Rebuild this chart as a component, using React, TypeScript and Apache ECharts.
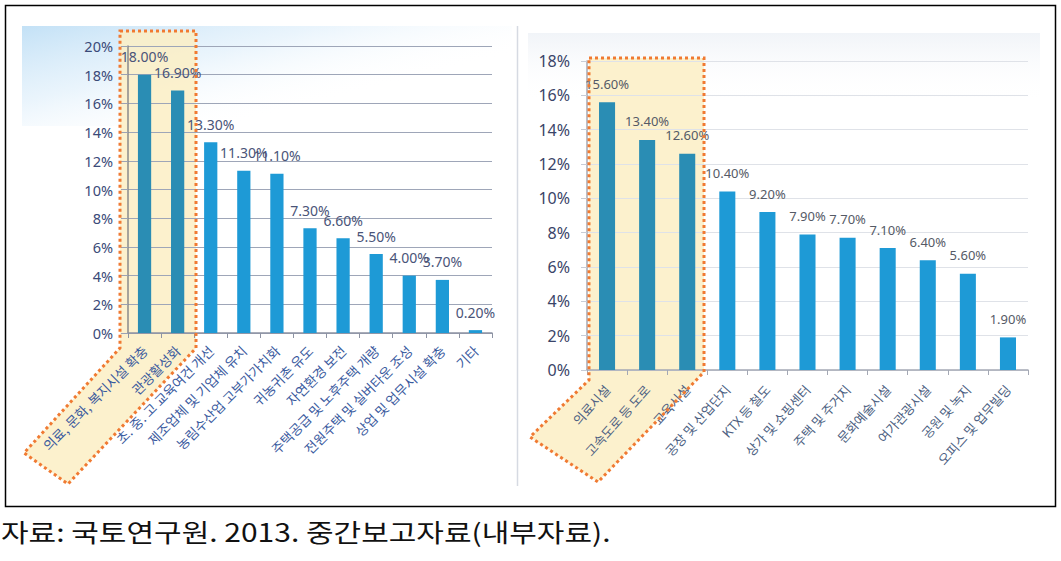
import React, { useEffect, useRef } from "react";
import * as echarts from "echarts";

const leftCategories = [
  "의료, 문화, 복지시설 확충",
  "관광활성화",
  "초. 중. 고 교육여건 개선",
  "제조업체 및 기업체 유치",
  "농림수산업 고부가가치화",
  "귀농귀촌 유도",
  "자연환경 보전",
  "주택공급 및 노후주택 개량",
  "전원주택 및 실버타운 조성",
  "상업 및 업무시설 확충",
  "기타",
];
const leftValues = [18.0, 16.9, 13.3, 11.3, 11.1, 7.3, 6.6, 5.5, 4.0, 3.7, 0.2];
const leftHighlightCount = 2;
const leftAxisMax = 20;

const rightCategories = [
  "의료시설",
  "고속도로 등 도로",
  "교육시설",
  "공장 및 산업단지",
  "KTX 등 철도",
  "상가 및 쇼핑센터",
  "주택 및 주거지",
  "문화예술시설",
  "여가관광시설",
  "공원 및 녹지",
  "오피스 및 업무빌딩",
];
const rightValues = [15.6, 13.4, 12.6, 10.4, 9.2, 7.9, 7.7, 7.1, 6.4, 5.6, 1.9];
const rightHighlightCount = 3;
const rightAxisMax = 18;

const axisStep = 2;
const caption = "자료: 국토연구원. 2013. 중간보고자료(내부자료).";

const BAR = "#1e9ad6";
const BAR_HL = "#2a8db4";
const KR = '"Noto Sans CJK KR", "Noto Sans", sans-serif';
const NUM = '"Noto Sans", "Noto Sans CJK KR", sans-serif';
const HL_FILL = "rgba(252,238,196,0.85)";
const HL_STROKE = "#f07a32";

const leftHlPoints = [[120, 31], [196, 31], [196, 348], [68, 484], [24, 453], [120, 348]];
const rightHlPoints = [[589, 58], [704, 58], [704, 372], [598, 482], [530, 437], [589, 380]];

function barData(values: number[], hl: number) {
  return values.map((v, i) => ({
    value: v,
    itemStyle: { color: i < hl ? BAR_HL : BAR },
  }));
}

function highlight(points: number[][]) {
  return [
    { type: "polygon", z: -2, shape: { points }, style: { fill: HL_FILL } },
    {
      type: "polygon",
      z: 5,
      shape: { points },
      style: { fill: "none", stroke: HL_STROKE, lineWidth: 3, lineDash: [3, 3] },
    },
  ];
}

export default function App() {
  const ref = useRef<HTMLDivElement>(null);
  useEffect(() => {
    document.body.style.margin = "0";
    const chart = echarts.init(ref.current as HTMLDivElement, null, { renderer: "svg" });
    const option: any = {
      animation: false,
      backgroundColor: "#ffffff",
      grid: [
        { left: 128, top: 46, width: 364, height: 287 },
        { left: 587, top: 61, width: 441, height: 309 },
      ],
      xAxis: [
        {
          type: "category",
          gridIndex: 0,
          data: leftCategories,
          axisLine: { lineStyle: { color: "#8d93a3", width: 1.5 } },
          axisTick: { show: true, length: 5, lineStyle: { color: "#8d93a3" } },
          axisLabel: {
            interval: 0,
            rotate: 45,
            margin: 15,
            color: "#3a5a9e",
            fontSize: 13.5,
            fontFamily: KR,
          },
        },
        {
          type: "category",
          gridIndex: 1,
          data: rightCategories,
          axisLine: { lineStyle: { color: "#a4a8b4", width: 1.5 } },
          axisTick: { show: true, length: 5, lineStyle: { color: "#a4a8b4" } },
          axisLabel: {
            interval: 0,
            rotate: 48,
            margin: 17,
            color: "#4d5f82",
            fontSize: 13,
            fontFamily: KR,
          },
        },
      ],
      yAxis: [
        {
          type: "value",
          gridIndex: 0,
          min: 0,
          max: leftAxisMax,
          interval: axisStep,
          axisLine: { show: true, lineStyle: { color: "#8a8a8a", width: 1.5 } },
          axisTick: { show: true, length: 7, lineStyle: { color: "#9aa2b4" } },
          splitLine: { lineStyle: { color: "#9ea6b8", width: 1.2 } },
          axisLabel: {
            formatter: "{value}%",
            margin: 15,
            color: "#3a4a78",
            fontSize: 14.5,
            fontFamily: NUM,
          },
        },
        {
          type: "value",
          gridIndex: 1,
          min: 0,
          max: rightAxisMax,
          interval: axisStep,
          axisLine: { show: true, lineStyle: { color: "#a4a8b4", width: 1.5 } },
          axisTick: { show: true, length: 6, lineStyle: { color: "#c8ccd6" } },
          splitLine: { lineStyle: { color: "#dfe2e8", width: 1 } },
          axisLabel: {
            formatter: "{value}%",
            margin: 17,
            color: "#3a4468",
            fontSize: 16,
            fontFamily: NUM,
          },
        },
      ],
      series: [
        {
          type: "bar",
          xAxisIndex: 0,
          yAxisIndex: 0,
          data: barData(leftValues, leftHighlightCount),
          barWidth: "40%",
          z: 3,
          label: {
            show: true,
            position: "top",
            distance: 11,
            formatter: (p: any) => p.value.toFixed(2) + "%",
            color: "#4a5478",
            fontSize: 14,
            fontFamily: NUM,
          },
        },
        {
          type: "bar",
          xAxisIndex: 1,
          yAxisIndex: 1,
          data: barData(rightValues, rightHighlightCount),
          barWidth: "40%",
          z: 3,
          label: {
            show: true,
            position: "top",
            distance: 12,
            formatter: (p: any) => p.value.toFixed(2) + "%",
            color: "#555a66",
            fontSize: 13,
            fontFamily: NUM,
          },
        },
      ],
      graphic: [
        {
          type: "rect",
          z: -10,
          shape: { x: 22, y: 26, width: 490, height: 100 },
          style: {
            fill: {
              type: "linear",
              x: 0, y: 0, x2: 0.75, y2: 0.6,
              colorStops: [
                { offset: 0, color: "#c3e1f6" },
                { offset: 0.5, color: "rgba(225,240,251,0.7)" },
                { offset: 1, color: "rgba(255,255,255,0)" },
              ],
            },
          },
        },
        {
          type: "rect",
          z: -10,
          shape: { x: 528, y: 33, width: 512, height: 70 },
          style: {
            fill: {
              type: "linear",
              x: 0, y: 0, x2: 0, y2: 1,
              colorStops: [
                { offset: 0, color: "#f1f4f8" },
                { offset: 1, color: "rgba(255,255,255,0)" },
              ],
            },
          },
        },
        {
          type: "line",
          z: -5,
          shape: { x1: 517.5, y1: 26, x2: 517.5, y2: 486 },
          style: { stroke: "#d6dae2", lineWidth: 1.5 },
        },
        ...highlight(leftHlPoints),
        ...highlight(rightHlPoints),
        {
          type: "rect",
          z: 20,
          shape: { x: 5.5, y: 5.5, width: 1050, height: 501 },
          style: { fill: "none", stroke: "#000000", lineWidth: 1.5 },
        },
        {
          type: "text",
          z: 20,
          x: 1,
          y: 531,
          scaleX: 1.2,
          style: {
            text: caption,
            fill: "#111111",
            fontSize: 25,
            fontFamily: KR,
            verticalAlign: "middle",
          },
        },
      ],
    };
    chart.setOption(option);
    return () => chart.dispose();
  }, []);
  return <div ref={ref} style={{ width: 1061, height: 561 }} />;
}
